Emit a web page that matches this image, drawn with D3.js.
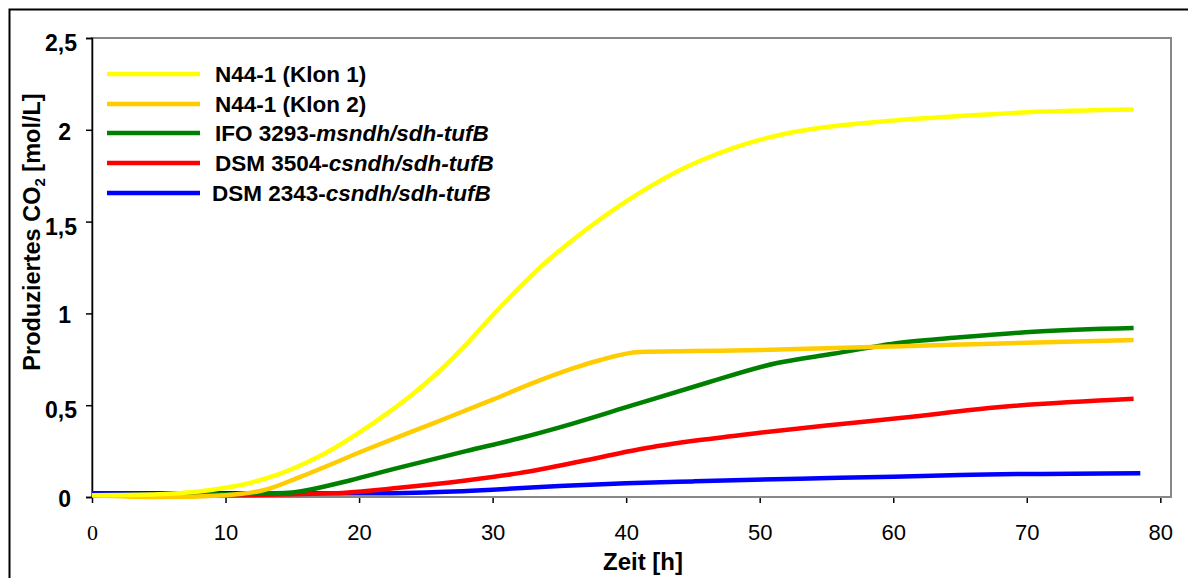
<!DOCTYPE html>
<html>
<head>
<meta charset="utf-8">
<script src="https://cdn.jsdelivr.net/npm/d3@7"></script>
<style>
  body { margin: 0; background: #fff; }
  svg { display: block; font-family: "Liberation Sans", Arial, sans-serif; }
</style>
</head>
<body>
<div id="chart"></div>
<script>
// Zeit [h] and produced CO2 [mol/L] per strain
const klon1Time = [0, 5, 8, 10, 12, 14, 16, 18, 20, 22, 24, 26, 28, 30, 32, 34, 36, 38, 40, 42, 44, 46, 48, 50, 52, 55, 60, 65, 70, 78];
const klon1Vals = [0.01, 0.015, 0.03, 0.05, 0.08, 0.125, 0.185, 0.26, 0.35, 0.45, 0.56, 0.685, 0.83, 0.99, 1.14, 1.28, 1.40, 1.51, 1.61, 1.70, 1.78, 1.845, 1.90, 1.945, 1.98, 2.015, 2.05, 2.075, 2.095, 2.11];

const klon2Time = [0, 5, 10, 13, 15.6, 20.6, 25.5, 30, 33, 36, 38, 41, 45, 50, 55, 60, 65, 70, 78];
const klon2Vals = [0.01, 0.0, 0.01, 0.04, 0.11, 0.26, 0.40, 0.53, 0.62, 0.70, 0.745, 0.79, 0.795, 0.80, 0.81, 0.82, 0.83, 0.84, 0.855];

const ifoTime = [0, 10, 15, 17, 19.3, 23, 28, 32, 36, 40.5, 45.5, 51.3, 55.5, 60.5, 65, 70.5, 78];
const ifoVals = [0.01, 0.015, 0.025, 0.05, 0.09, 0.16, 0.25, 0.32, 0.40, 0.50, 0.61, 0.73, 0.78, 0.84, 0.87, 0.90, 0.92];

const dsm3504Time = [0, 10, 18, 23, 28, 32, 37, 41, 45.5, 50, 55, 60.5, 68, 78];
const dsm3504Vals = [0.01, 0.01, 0.02, 0.05, 0.09, 0.13, 0.20, 0.26, 0.31, 0.35, 0.39, 0.43, 0.49, 0.535];

const dsm2343Time = [0, 10, 20, 25, 30, 35, 40, 45, 53, 60, 65, 78.5];
const dsm2343Vals = [0.02, 0.02, 0.02, 0.025, 0.04, 0.06, 0.075, 0.085, 0.10, 0.11, 0.12, 0.13];

const seriesNames = ["N44-1 (Klon 1)", "N44-1 (Klon 2)", "IFO 3293-", "DSM 3504-", "DSM 2343-"];
const seriesItalic = ["", "", "msndh/sdh-tufB", "csndh/sdh-tufB", "csndh/sdh-tufB"];
const seriesColors = ["#ffff00", "#ffcc00", "#008000", "#ff0000", "#0000ff"];

const yTicks = [0, 0.5, 1, 1.5, 2, 2.5];
const xTicks = [0, 10, 20, 30, 40, 50, 60, 70, 80];

const series = [
  [klon1Time, klon1Vals],
  [klon2Time, klon2Vals],
  [ifoTime, ifoVals],
  [dsm3504Time, dsm3504Vals],
  [dsm2343Time, dsm2343Vals]
].map(([t, v], i) => ({
  name: seriesNames[i],
  italic: seriesItalic[i],
  color: seriesColors[i],
  values: t.map((d, j) => ({ t: d, v: v[j] }))
}));

const width = 1188, height = 578;
const margin = { top: 38, right: 17, bottom: 81, left: 92 };

const svg = d3.select("#chart").append("svg")
  .attr("width", width)
  .attr("height", height);

// outer frame (cut off at right and bottom like the original)
svg.append("path")
  .attr("d", `M9.5,${height + 5}V9.5H${width + 5}`)
  .attr("fill", "none")
  .attr("stroke", "#000")
  .attr("stroke-width", 2);

const x = d3.scaleLinear()
  .domain([0, 80.8])
  .range([margin.left, width - margin.right]);

const y = d3.scaleLinear()
  .domain([0, 2.5])
  .range([height - margin.bottom, margin.top]);

const fmt = d3.formatLocale({ decimal: ",", thousands: ".", grouping: [3], currency: ["", "€"] }).format("~g");

// plot area border
svg.append("rect")
  .attr("x", x(0))
  .attr("y", y(2.5))
  .attr("width", x(80.8) - x(0))
  .attr("height", y(0) - y(2.5))
  .attr("fill", "none")
  .attr("stroke", "#888")
  .attr("stroke-width", 2);

// x axis
const xAxis = svg.append("g")
  .attr("transform", `translate(0,${y(0) + 1})`)
  .call(d3.axisBottom(x).tickValues(xTicks).tickSize(5).tickPadding(21).tickFormat(d3.format("d")));
xAxis.select(".domain").remove();
xAxis.selectAll(".tick line").attr("stroke", "#000").attr("stroke-width", 1.5);
xAxis.selectAll(".tick text")
  .attr("font-size", 22)
  .attr("fill", "#000")
  .attr("font-family", d => d === 0 ? "'Liberation Serif', serif" : "'Liberation Sans', Arial, sans-serif");

// y axis
const yAxis = svg.append("g")
  .attr("transform", `translate(${x(0)},0)`)
  .call(d3.axisLeft(y).tickValues(yTicks).tickSize(6).tickPadding(9).tickFormat(fmt));
yAxis.select(".domain").attr("stroke", "#000").attr("stroke-width", 1.5);
yAxis.selectAll(".tick line").attr("stroke", "#000").attr("stroke-width", 1.5);
yAxis.selectAll(".tick text")
  .attr("font-size", 23)
  .attr("font-weight", "bold")
  .attr("fill", "#000")
  .attr("dy", d => Number.isInteger(d) ? "0.4em" : "0.55em")
  .attr("dx", d => Number.isInteger(d) ? -6 : 0);

// axis titles
svg.append("text")
  .attr("x", 643)
  .attr("y", 570)
  .attr("text-anchor", "middle")
  .attr("font-size", 24)
  .attr("font-weight", "bold")
  .text("Zeit [h]");

const yTitle = svg.append("text")
  .attr("transform", `translate(40,${232}) rotate(-90)`)
  .attr("text-anchor", "middle")
  .attr("font-size", 23.5)
  .attr("font-weight", "bold");
yTitle.append("tspan").text("Produziertes CO");
yTitle.append("tspan").attr("font-size", 15).attr("dy", 5).text("2");
yTitle.append("tspan").attr("dy", -5).text(" [mol/L]");

// curves
const line = d3.line()
  .x(d => x(d.t))
  .y(d => y(d.v))
  .curve(d3.curveMonotoneX);

svg.append("g")
  .selectAll("path")
  .data(series.slice().reverse())
  .join("path")
  .attr("d", d => line(d.values))
  .attr("fill", "none")
  .attr("stroke", d => d.color)
  .attr("stroke-width", 4.5);

// legend
const legendY = [74, 104, 133, 163, 193];
const legend = svg.append("g")
  .selectAll("g")
  .data(series)
  .join("g")
  .attr("transform", (d, i) => `translate(107,${legendY[i]})`);

legend.append("line")
  .attr("x1", 0)
  .attr("x2", 93)
  .attr("stroke", d => d.color)
  .attr("stroke-width", 4.5);

const legendText = legend.append("text")
  .attr("x", (d, i) => i === 4 ? 105 : 108)
  .attr("y", 8)
  .attr("font-size", 22.5)
  .attr("font-weight", "bold");
legendText.append("tspan").text(d => d.name);
legendText.append("tspan").attr("font-style", "italic").text(d => d.italic);
</script>
</body>
</html>
